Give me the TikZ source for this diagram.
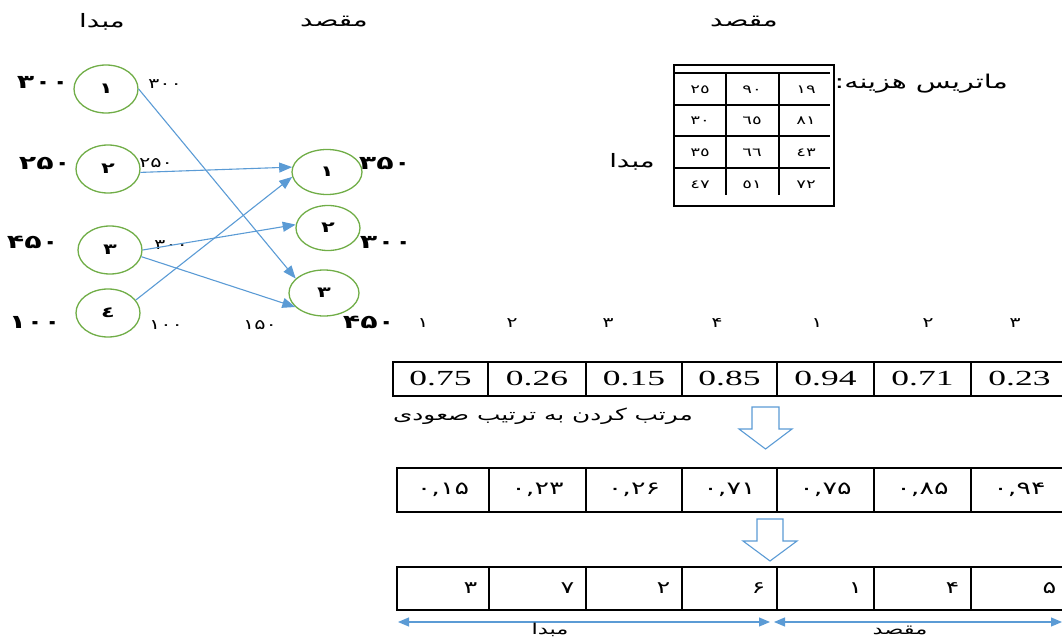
\documentclass[tikz,border=0pt]{standalone}
\usepackage{fontspec}
\setmainfont{Liberation Serif}
\newfontfamily\wide{Liberation Serif}[FakeStretch=1.65]
\newfontfamily\fa{DejaVu Sans}[Script=Arabic, FakeStretch=1.5]
\TeXXeTstate=1
\usetikzlibrary{shapes.geometric,arrows.meta}
\definecolor{nodegreen}{HTML}{70AD47}
\definecolor{flowblue}{HTML}{5B9BD5}
\begin{document}
\begin{tikzpicture}[x=1pt,y=-1pt,
  src/.style={ellipse, draw=nodegreen, line width=1.3pt, minimum width=64pt,
    minimum height=48pt, inner sep=0pt, font=\fa\bfseries\fontsize{15}{16}\selectfont},
  dst/.style={src, minimum width=70pt, minimum height=45pt},
  flow/.style={draw=flowblue, line width=1.1pt, -{Triangle[length=13pt,width=10pt]}},
  bothway/.style={draw=flowblue, line width=1.1pt,
    {Triangle[length=11pt,width=9pt]}-{Triangle[length=11pt,width=9pt]}},
  hollow/.style={draw=flowblue, line width=1.1pt, fill=white, line join=miter},
  big/.style={font=\fa\bfseries\fontsize{19}{22}\selectfont, inner sep=0pt},
  small/.style={font=\fa\fontsize{14}{16}\selectfont, inner sep=0pt},
  title/.style={font=\fa\fontsize{18.5}{20}\selectfont, inner sep=0pt},
  idx/.style={font=\fa\fontsize{14}{16}\selectfont, inner sep=0pt},
  mat/.style={font=\fa\fontsize{12}{14}\selectfont, inner sep=0pt},
  cell/.style={draw, line width=1.1pt, inner sep=0pt},
]
\useasboundingbox (0,0) rectangle (1062,639);

% ---------- transportation network ----------
\node[title] (hsrc) at (102,22) {\beginR مبدا\endR};
\node[title] (hdst) at (334,22) {\beginR مقصد\endR};

\node[src] (s1) at (106,89) {۱};
\node[src] (s2) at (108,169) {۲};
\node[src] (s3) at (110,250) {۳};
\node[src] (s4) at (108,313) {٤};

\node[dst] (d1) at (327,172) {۱};
\node[dst, minimum width=64pt] (d2) at (328,228) {۲};
\node[dst, minimum height=46pt] (d3) at (324,293) {۳};

% supplies
\node[big] (sup1) at (43,82) {۳۰۰};
\node[big] (sup2) at (45,163) {۲۵۰};
\node[big] (sup3) at (33,242) {۴۵۰};
\node[big] (sup4) at (35,322) {۱۰۰};
% demands
\node[big] (dem1) at (385,163) {۳۵۰};
\node[big] (dem2) at (386,242) {۳۰۰};
\node[big] (dem3) at (369,322) {۴۵۰};
% shipped amounts
\node[small] (q1) at (165,84) {۳۰۰};
\node[small] (q2) at (156,163) {۲۵۰};
\node[small] (q3) at (171,245) {۳۰۰};
\node[small] (q4) at (166,325) {۱۰۰};
\node[small] (q5) at (260,325) {۱۵۰};

\draw[flow] (s1.east) -- (d3.153);
\draw[flow] (s2.-6) -- (d1.172);
\draw[flow] (s3.east) -- (d2.174);
\draw[flow] (s3.-12) -- (d3.206);
\draw[flow] (s4.25) -- (d1.188);

% ---------- cost matrix ----------
\node[title] (hmdst) at (744,22) {\beginR مقصد\endR};
\node[title] (hmsrc) at (632,162) {\beginR مبدا\endR};
\node[font=\fa\fontsize{19}{22}\selectfont, inner sep=0pt, anchor=east]
  (mtitle) at (1008,84) {\beginR ماتریس هزینه:\endR};

\draw[line width=1.1pt] (674,65) rectangle (834,206);
\foreach \yy in {73,105,136,168}
  \draw[line width=1.1pt] (674,\yy) -- (830,\yy);
\foreach \xx in {726,779}
  \draw[line width=1.1pt] (\xx,73) -- (\xx,195);
\foreach \yy/\a/\b/\c in {90/٢٥/٩٠/١٩, 121/٣٠/٦٥/٨١, 153/٣٥/٦٦/٤٣, 185/٤٧/٥١/٧٢}{
  \node[mat] at (700,\yy) {\a};
  \node[mat] at (752,\yy) {\b};
  \node[mat] at (806,\yy) {\c};
}

% ---------- random keys ----------
\foreach \xx/\t in {423/۱, 512/۲, 608/۳, 717/۴, 817/۱, 928/۲, 1015/۳}
  \node[idx] at (\xx,323) {\t};

\foreach \l/\r/\t [count=\i] in {393/488/0.75, 488/586/0.26, 586/682/0.15,
    682/777/0.85, 777/874/0.94, 874/971/0.71, 971/1068/0.23}
  \node[cell, minimum width={(\r-\l)*1pt}, minimum height=34pt,
    font=\wide\fontsize{21.5}{22}\selectfont] (a\i) at ({(\l+\r)/2},379) {\t};

\node[font=\fa\fontsize{16.5}{18}\selectfont, inner sep=0pt, anchor=east]
  (sortnote) at (693,416) {\beginR مرتب کردن به ترتیب صعودی\endR};

\draw[hollow] (752,407) -- (779,407) -- (779,429) -- (792,429) -- (765.5,449)
  -- (739,429) -- (752,429) -- cycle;

\foreach \l/\r/\t [count=\i] in {397/489/{۰,۱۵}, 489/586/{۰,۲۳}, 586/682/{۰,۲۶},
    682/777/{۰,۷۱}, 777/874/{۰,۷۵}, 874/971/{۰,۸۵}, 971/1068/{۰,۹۴}}
  \node[cell, minimum width={(\r-\l)*1pt}, minimum height=44pt,
    font=\fa\fontsize{18}{20}\selectfont] (b\i) at ({(\l+\r)/2},490) {\t};

\draw[hollow] (757,519) -- (783,519) -- (783,541) -- (797,541) -- (770,561)
  -- (743,541) -- (757,541) -- cycle;

\foreach \l/\r/\t [count=\i] in {397/489/۳, 489/586/۷, 586/682/۲,
    682/777/۶, 777/874/۱, 874/971/۴, 971/1068/۵}{
  \node[cell, minimum width={(\r-\l)*1pt}, minimum height=43pt] (c\i)
    at ({(\l+\r)/2},588.5) {};
  \node[font=\fa\fontsize{17}{18}\selectfont, inner sep=0pt, anchor=east]
    at ([xshift=-12pt]c\i.east) {\t};
}

% ---------- source / destination split ----------
\coordinate (ol) at (398,622);
\coordinate (or) at (770,622);
\coordinate (dl) at (774,622);
\coordinate (dr) at (1062,622);
\draw[bothway] (ol) -- (or);
\draw[bothway] (dl) -- (dr);
\node[font=\fa\fontsize{15}{16}\selectfont, inner sep=0pt] (lsrc) at (550,630) {\beginR مبدا\endR};
\node[font=\fa\fontsize{15}{16}\selectfont, inner sep=0pt] (ldst) at (900,630) {\beginR مقصد\endR};
\end{tikzpicture}
\end{document}
